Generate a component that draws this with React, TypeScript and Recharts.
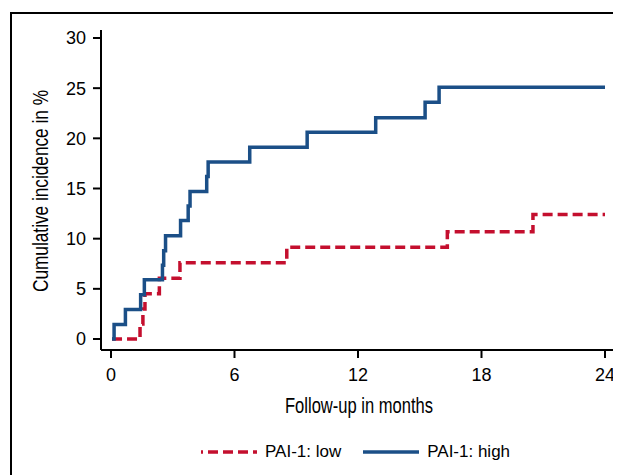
import React from "react";
import { Line, LineChart, XAxis, YAxis } from "recharts";

// Kaplan-Meier style cumulative incidence
const lowMonths = [0.05, 1.41, 1.55, 1.65, 2.35, 3.35, 8.54, 16.34, 20.5, 24];
const lowPct = [0, 1.5, 3.0, 4.5, 6.05, 7.6, 9.15, 10.7, 12.4, 12.4];

const highMonths = [
  0.05, 0.15, 0.7, 1.44, 1.62, 2.5, 2.56, 2.65, 3.38, 3.75, 3.84, 4.65, 4.72, 6.74, 9.53, 12.86, 15.26,
  15.94, 24,
];
const highPct = [
  0, 1.45, 2.95, 4.4, 5.9, 7.35, 8.8, 10.3, 11.8, 13.25, 14.7, 16.2, 17.65, 19.1, 20.6, 22.05, 23.6, 25.1,
  25.1,
];

const xTicks = [0, 6, 12, 18, 24];
const yTicks = [0, 5, 10, 15, 20, 25, 30];

const COLOR = {
  low: "#c40f2e",
  high: "#1b4f87",
  axis: "#000000",
} as const;

const TICK_FONT = "'Liberation Sans', Arial, sans-serif";

const lowData = lowMonths.map((t, i) => ({ t, v: lowPct[i] }));
const highData = highMonths.map((t, i) => ({ t, v: highPct[i] }));

type Box = { x: number; y: number; width: number; height: number };

// Titles use a squeezed Liberation Sans to mimic the condensed face in the original
function YTitle({ viewBox }: { viewBox?: Box }) {
  if (!viewBox) return null;
  const cx = viewBox.x + 39.5;
  const cy = viewBox.y + viewBox.height / 2 + 1;
  return (
    <text
      x={cx}
      y={cy}
      transform={`rotate(-90 ${cx} ${cy})`}
      textAnchor="middle"
      textLength={202}
      lengthAdjust="spacingAndGlyphs"
      fontFamily={TICK_FONT}
      fontSize={22}
      fill="#000"
    >
      Cumulative incidence in %
    </text>
  );
}

function XTitle({ viewBox }: { viewBox?: Box }) {
  if (!viewBox) return null;
  return (
    <text
      x={viewBox.x + viewBox.width / 2}
      y={viewBox.y + 63}
      textAnchor="middle"
      textLength={148}
      lengthAdjust="spacingAndGlyphs"
      fontFamily={TICK_FONT}
      fontSize={22}
      fill="#000"
    >
      Follow-up in months
    </text>
  );
}

function LegendItem({ color, dashed, label }: { color: string; dashed?: boolean; label: string }) {
  return (
    <div style={{ display: "flex", alignItems: "center" }}>
      <svg width={56} height={10} style={{ marginRight: 8 }}>
        <line
          x1={0}
          y1={5}
          x2={56}
          y2={5}
          stroke={color}
          strokeWidth={3.5}
          strokeDasharray={dashed ? "10 5" : undefined}
          strokeDashoffset={dashed ? 8 : undefined}
        />
      </svg>
      <span style={{ fontFamily: TICK_FONT, fontSize: 17, color: "#000" }}>{label}</span>
    </div>
  );
}

export default function App() {
  return (
    <div style={{ position: "relative", width: 613, height: 467, overflow: "hidden", background: "#fff" }}>
      <div
        style={{
          position: "absolute",
          left: 2,
          top: 4,
          width: 1000,
          height: 1000,
          borderLeft: "2px solid #000",
          borderTop: "2px solid #000",
        }}
      />
      <div style={{ position: "absolute", left: 0, top: 0 }}>
        <LineChart width={613} height={467} margin={{ top: 22, right: 4, bottom: 55, left: 0 }}>
          <XAxis
            type="number"
            dataKey="t"
            domain={[0, 24]}
            ticks={xTicks}
            padding={{ left: 10, right: 12 }}
            height={70}
            tickSize={8}
            tickMargin={10}
            stroke={COLOR.axis}
            strokeWidth={2}
            tick={{ fontSize: 18, fill: "#000", fontFamily: TICK_FONT }}
            allowDataOverflow
            label={<XTitle />}
          />
          <YAxis
            type="number"
            domain={[0, 30]}
            ticks={yTicks}
            padding={{ top: 8, bottom: 11 }}
            width={93}
            tickSize={8}
            tickMargin={7}
            stroke={COLOR.axis}
            strokeWidth={2}
            tick={{ fontSize: 18, fill: "#000", fontFamily: TICK_FONT }}
            label={<YTitle />}
          />
          <Line
            data={lowData}
            dataKey="v"
            type="stepAfter"
            stroke={COLOR.low}
            strokeWidth={3.5}
            strokeDasharray="10 5"
            dot={false}
            isAnimationActive={false}
          />
          <Line
            data={highData}
            dataKey="v"
            type="stepAfter"
            stroke={COLOR.high}
            strokeWidth={3.5}
            dot={false}
            isAnimationActive={false}
          />
        </LineChart>
      </div>
      <div style={{ position: "absolute", left: 193, top: 434, display: "flex", alignItems: "center", gap: 22 }}>
        <LegendItem color={COLOR.low} dashed label="PAI-1: low" />
        <LegendItem color={COLOR.high} label="PAI-1: high" />
      </div>
    </div>
  );
}
